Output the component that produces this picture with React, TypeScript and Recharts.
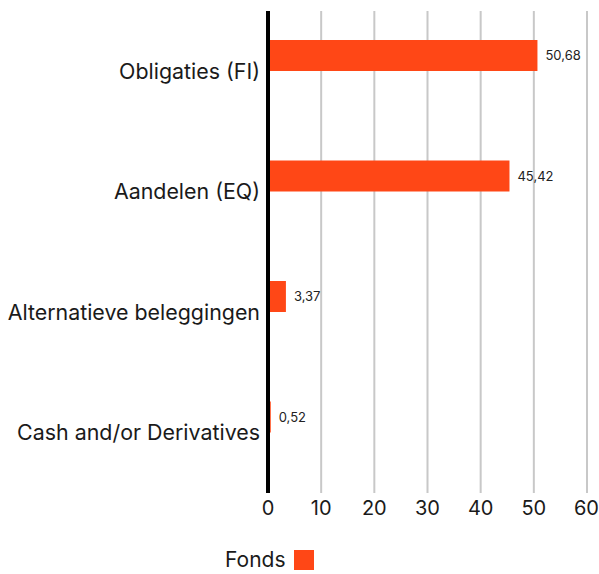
import { Bar, BarChart, CartesianGrid, LabelList, ReferenceLine, XAxis, YAxis } from "recharts"

const categories = ["Obligaties (FI)", "Aandelen (EQ)", "Alternatieve beleggingen", "Cash and/or Derivatives"]
const fonds = [50.68, 45.42, 3.37, 0.52]
const xTicks = [0, 10, 20, 30, 40, 50, 60]

const ORANGE = "#ff4716"
const FONT = "Inter, 'Open Sans', sans-serif"

const data = categories.map((name, i) => ({ name, fonds: fonds[i] }))

const fmt = (v: number) => v.toFixed(2).replace(".", ",")

export default function App() {
  return (
    <div style={{ position: "absolute", left: 0, top: 0, width: 599, height: 574, fontFamily: FONT }}>
      <BarChart
        width={599}
        height={520}
        data={data}
        layout="vertical"
        margin={{ top: 11, right: 12, bottom: 0, left: 0 }}
        barGap={0}
        barSize={31}
      >
        <CartesianGrid horizontal={false} stroke="#c8c8c8" strokeWidth={2} />
        <XAxis
          type="number"
          domain={[0, 60]}
          ticks={xTicks}
          axisLine={false}
          tickLine={false}
          height={27}
          tick={{ fontSize: 20, fill: "#1a1a1a", fontFamily: FONT }}
        />
        <YAxis
          type="category"
          dataKey="name"
          width={268}
          axisLine={false}
          tickLine={false}
          tick={{ fontSize: 21.4, fill: "#1a1a1a", fontFamily: FONT }}
        />
        <Bar dataKey="fonds" name="Fonds" fill={ORANGE} isAnimationActive={false}>
          <LabelList
            dataKey="fonds"
            position="right"
            offset={8}
            formatter={(v: any) => fmt(Number(v))}
            style={{ fontSize: 13, fill: "#222", fontFamily: FONT }}
          />
        </Bar>
        <Bar dataKey="benchmark" legendType="none" fill="#999" isAnimationActive={false} />
        <ReferenceLine x={0} stroke="#000" strokeWidth={4} />
      </BarChart>
      <div
        style={{
          position: "absolute",
          left: 225,
          top: 547,
          display: "flex",
          alignItems: "center",
          gap: 8,
          fontSize: 21,
          color: "#1a1a1a",
        }}
      >
        <span>Fonds</span>
        <span style={{ display: "inline-block", width: 20, height: 20, background: ORANGE }} />
      </div>
    </div>
  )
}
